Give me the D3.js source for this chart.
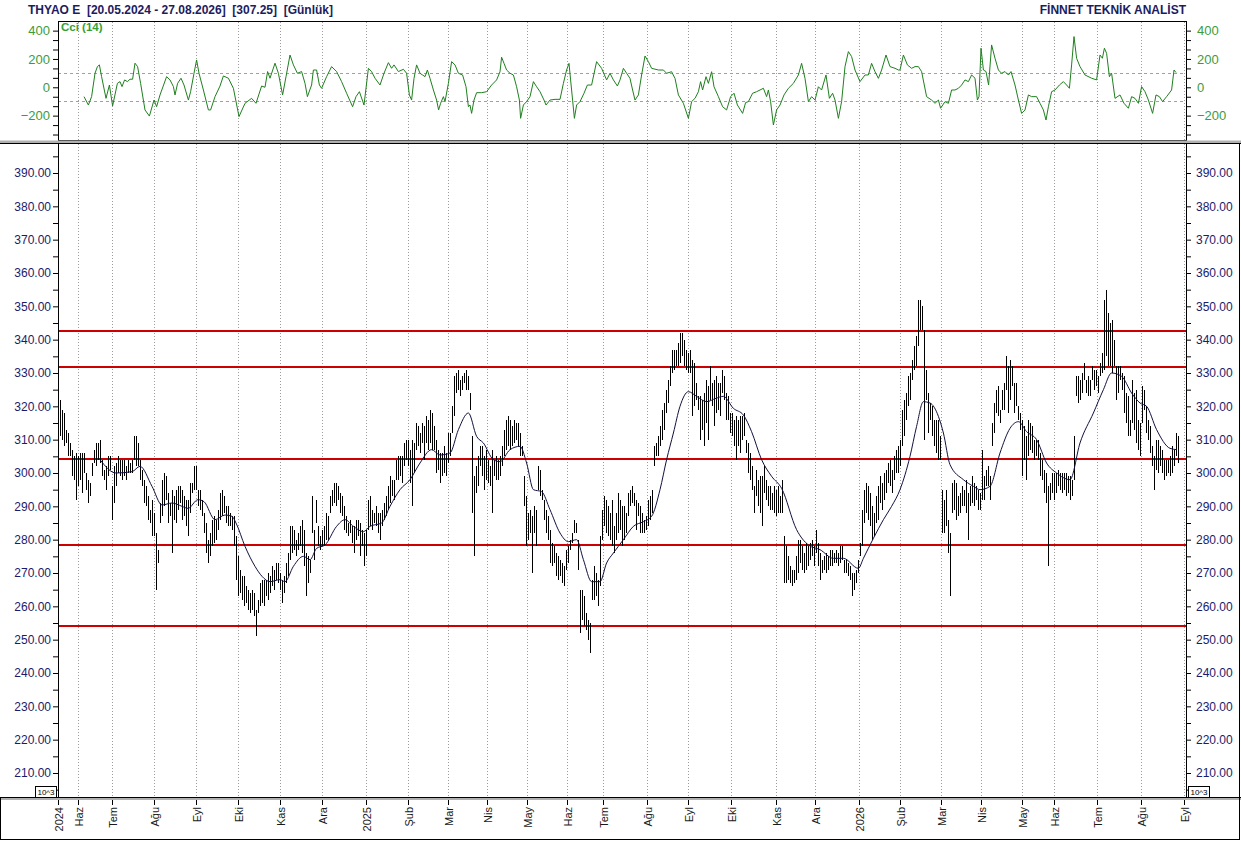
<!DOCTYPE html>
<html>
<head>
<meta charset="utf-8">
<script src="https://cdn.jsdelivr.net/npm/d3@7"></script>
<style>
  body { margin: 0; background: #fff; }
  svg { display: block; }
  text { font-family: Arial, "Liberation Sans", sans-serif; }
</style>
</head>
<body>
<div id="chart"></div>
<script>
// daily high / low, bar 0 = 20.05.2024, last bar = 27.08.2026
var highs = [
  322,319,318,313,312,309,307,305,306,305,306,306,306,300,298,297,303,307,309,309,
  310,304,301,302,305,305,296,302,303,305,304,304,304,302,304,303,304,311,311,309,
  304,301,298,296,293,289,292,288,282,277,291,298,300,299,294,291,295,293,295,296,
  296,295,293,292,292,297,297,302,302,295,295,292,288,285,280,282,286,287,286,289,
  294,295,293,290,290,288,287,287,281,275,271,269,269,266,265,264,265,264,259,262,
  267,268,268,268,270,269,272,271,273,273,270,268,269,273,276,284,284,283,280,282,
  284,286,283,276,275,274,293,283,292,284,281,283,284,288,287,293,295,297,297,296,
  294,293,290,287,285,286,284,284,286,286,285,283,282,283,292,293,289,288,290,288,
  288,289,291,293,296,299,298,298,304,305,305,305,309,310,310,307,310,309,315,314,
  312,315,314,317,316,319,318,314,310,307,306,306,308,306,312,312,320,329,330,331,
  328,329,330,331,329,324,311,299,302,305,308,308,305,307,304,302,307,304,305,304,
  305,308,313,316,317,316,314,316,315,315,312,308,299,293,288,289,287,290,289,302,
  301,295,292,289,287,283,279,278,276,275,274,273,272,277,278,280,282,286,285,280,
  265,265,263,258,256,255,268,272,270,268,281,289,293,292,290,288,292,284,288,294,
  292,290,290,288,294,295,296,294,292,291,290,288,286,287,292,293,295,308,309,311,
  314,319,321,325,328,332,337,337,337,339,342,342,340,337,336,337,334,333,327,323,
  323,322,324,328,326,332,327,328,329,327,327,331,329,324,323,318,318,316,317,316,
  317,317,318,310,309,306,302,296,301,298,299,299,302,298,296,296,294,296,295,296,
  293,298,281,278,275,272,271,271,275,280,280,278,276,279,278,279,280,278,283,279,
  276,274,275,276,275,277,277,276,277,276,278,278,274,274,273,272,270,270,271,274,
  279,289,295,297,296,294,290,288,293,296,299,297,300,301,303,304,301,305,307,308,
  310,319,322,324,329,330,334,338,341,352,352,350,343,331,324,321,320,316,316,316,
  311,295,292,295,286,282,297,298,297,293,294,296,295,298,294,296,299,297,296,295,
  294,307,299,301,302,299,315,321,325,326,319,325,327,335,332,334,332,327,327,320,
  318,316,314,311,316,315,314,310,310,310,306,304,301,300,296,297,300,300,300,301,
  300,300,300,300,299,299,298,311,329,329,328,330,333,328,329,328,332,331,331,329,
  333,336,352,355,348,345,346,340,332,332,332,330,329,324,323,316,328,324,325,316,
  315,326,325,320,316,314,308,305,310,310,308,307,304,304,304,305,308,307,312,311
];
var lows = [
  311,310,308,309,305,305,299,298,292,296,298,294,300,295,291,293,299,303,302,304,
  303,299,298,295,299,301,286,291,296,300,299,298,299,298,300,300,300,304,302,302,
  298,296,291,290,286,285,281,281,265,273,285,287,290,292,285,287,276,286,285,289,
  291,286,287,284,281,288,294,295,295,290,289,287,282,276,273,275,278,279,280,283,
  286,287,288,285,284,284,283,278,268,263,264,262,260,261,259,258,259,257,251,258,
  260,261,260,263,262,264,266,265,268,267,265,261,264,267,269,274,276,277,275,277,
  278,276,272,263,267,270,282,274,285,278,277,278,278,280,280,288,290,291,290,292,
  288,287,283,282,281,282,279,276,280,281,275,278,272,275,283,284,283,285,284,282,
  280,284,286,287,289,291,293,292,298,298,299,297,302,304,302,297,290,300,307,308,
  306,309,304,309,307,309,307,307,300,301,297,299,300,299,303,305,312,317,324,325,
  323,325,327,325,325,319,288,275,294,296,302,299,295,298,297,296,288,299,298,298,
  299,302,305,307,308,307,308,309,310,308,305,305,290,278,280,282,270,282,278,295,
  293,292,286,282,280,273,272,273,269,268,269,267,266,271,273,277,279,282,282,271,
  252,256,254,253,250,246,262,262,263,260,266,280,284,282,281,280,278,276,280,282,
  283,278,280,282,287,290,291,290,283,287,282,282,282,283,284,286,288,302,305,305,
  308,310,313,318,321,326,330,331,332,332,333,335,332,331,330,330,317,320,322,319,
  310,313,308,315,310,322,320,314,318,319,317,324,322,316,316,312,311,308,304,308,
  306,310,311,306,300,298,295,288,293,290,288,284,294,292,290,289,289,288,287,288,
  288,288,267,267,268,267,266,267,268,270,273,271,270,271,272,274,275,272,276,272,
  268,270,271,270,271,272,272,273,273,272,273,274,270,270,269,268,263,265,267,270,
  275,278,285,288,286,284,280,281,285,286,291,289,292,294,297,296,294,298,300,300,
  302,308,311,316,320,322,328,331,332,338,343,343,310,322,312,316,311,308,306,304,
  304,282,282,284,276,263,288,289,286,287,288,290,290,288,280,290,291,290,292,289,
  289,292,292,296,296,292,308,312,318,317,315,319,319,325,318,322,326,318,320,316,
  313,299,304,298,305,307,306,304,305,304,299,298,294,291,272,292,294,292,294,296,
  295,294,295,293,294,292,293,298,323,321,322,324,328,324,323,323,328,325,326,324,
  329,330,331,335,332,332,330,332,322,324,328,325,318,315,311,311,315,313,309,307,
  305,315,319,312,310,306,302,295,301,300,302,300,298,299,300,299,300,302,305,303
];

// moving average: [bar, value]
var maPoints = [
  [20,304],[28,300],[36,300.4],[40,302],[46,296],[51,290.4],[56,291],[61,290],[64,289.4],[69,292],
  [72,291.4],[77.5,286],[82.5,287.4],[86,287],[88,285],[92.5,278],[97.5,272],[101,269],[105,267.4],[110,268],
  [112.5,267.4],[116.7,272],[121.7,275],[125,274],[128.3,277.4],[132.5,278.4],[138.3,284],[142.5,286],[146.7,284],[151.7,282.4],
  [155,284],[160.8,285],[165,290],[170,295],[175,298],[180,303],[185.8,307],[190,305.4],[195,306],[199.2,313],
  [204.2,318],[208.3,311],[211.7,309],[216.7,304],[220,303.4],[225,307],[230,308],[233.3,303],[236.7,295],[240.8,294.4],
  [245,289],[250,282],[254.2,279.4],[258.3,280],[261.7,274],[265.8,267.4],[270,267.4],[273.3,273],[276.7,276],[281.7,280],
  [286.7,284],[291.7,285.4],[295.8,287],[300,295],[303.3,304],[306.7,312],[310,320],[314.2,324.4],[318.3,323],[323.3,321.4],
  [328,322.4],[331.7,323],[336.7,319.4],[341.7,317.4],[345.8,312.4],[350.8,304],[355.8,299],[360.8,295.4],[368.3,283],[374.2,278.4],
  [380,277],[386.7,274.4],[391.7,274.4],[399.2,271.4],[401.7,274.4],[406.7,280.4],[411.7,286],[415.8,290],[420,295],[425,305],
  [428.3,314],[431.7,321.4],[435,321],[439.2,317],[441.7,312],[445,302.5],[451.7,298],[456.7,296],[460,295],[465,296],
  [470,306],[475,313.4],[479.2,315.4],[483.3,312.4],[488.3,310],[493.3,303],[498.3,300],[505,298],[510,309],[516.7,318],
  [521.7,325],[525.8,330],[530.8,329],[535.8,324],[540,321],[543.3,320],[548.3,313],[555,307.4],[558.3,307]
];

// Cci (14): [bar, value]
var cciPoints = [
  [12,-66],[14.2,-125],[15.8,-66],[17.5,99],[18.7,146],[19.7,158],[20.8,75],[23,-78],[24.7,16],[26.3,-132],
  [28.7,28],[30,40],[31,5],[32.3,52],[33.7,40],[35,57],[36.3,57],[37.5,170],[38.8,146],[40.3,28],
  [42.5,-160],[44.7,-203],[47,-90],[48.3,-137],[50,-54],[53.3,75],[55,52],[56.7,5],[57.5,-54],[58.8,28],
  [60.5,64],[62,16],[64.2,-90],[65.3,-31],[67,99],[68.3,193],[69.5,99],[71.7,-19],[74.2,-160],[75.3,-160],
  [77.5,-66],[80,9],[81.7,80],[84.2,64],[86.7,-7],[89.5,-207],[92.5,-113],[95.8,-78],[98,-113],[100.8,9],
  [102.5,0],[103.8,111],[105,64],[107.5,170],[109.2,99],[111.3,-54],[113,75],[115,228],[116.7,158],[118.7,99],
  [120.8,111],[122.5,28],[123.7,-66],[125.8,16],[126.7,122],[128.3,122],[129.7,16],[130.8,-7],[133.3,75],[135.8,146],
  [138.3,111],[140.8,40],[143.3,-42],[146.3,-137],[148,-66],[149.7,-31],[152,-125],[154.2,134],[155.8,111],[157.5,64],
  [160,16],[162,99],[164.2,174],[165.8,134],[167,158],[169.2,111],[171.7,127],[173.3,99],[174.7,-54],[175.8,-90],
  [177,63],[178.3,158],[180,99],[181.3,87],[182.5,75],[183.7,122],[185,63],[186.7,-19],[188.3,-90],[189.3,-160],
  [190.3,-113],[191.7,-66],[192.5,-101],[194.2,28],[195.8,181],[197.5,158],[199.2,99],[201.3,87],[203,4],[204.2,-137],
  [205,-125],[205.8,-184],[207,-90],[208.3,-38],[210.8,-38],[213.3,-31],[215.8,16],[218.3,52],[220,110],[220.8,212],
  [222,169],[223.3,122],[225,99],[226.7,87],[228.3,4],[229.7,-90],[230.3,-219],[231.7,-125],[233.3,-101],[235,-66],
  [236.7,40],[238.3,4],[240,-31],[242,-90],[243,-125],[245,-90],[247.5,-85],[250,-85],[251.7,28],[253.3,122],
  [254.5,169],[255.3,52],[256.3,-90],[257.2,-219],[258.3,-125],[260,-101],[262,-42],[263.7,16],[265.8,16],[268.3,181],
  [270.8,134],[273.3,52],[275,99],[276.7,52],[278.7,9],[280,52],[281.7,134],[283.3,99],[285,63],[286.3,-19],
  [287.5,-90],[289.2,-54],[290.8,87],[292.5,221],[294.2,181],[295.8,134],[299.2,122],[301.7,122],[303.3,99],[305.8,110],
  [307.5,63],[309.2,-54],[311.7,-113],[314.2,-219],[315.8,-101],[317.5,-78],[319.2,-31],[320.3,40],[321.3,-19],[323,75],
  [324.2,28],[325.8,110],[327,4],[329.2,-66],[331.3,-137],[333.3,-160],[335.3,-66],[337,-42],[338.7,-125],[341.3,-184],
  [342.8,-108],[344.2,-101],[346.3,-42],[348.3,-31],[350,-19],[351.7,-7],[353.3,-66],[354.2,-19],[355.3,-101],[356.7,-266],
  [358.3,-160],[360,-125],[362,-54],[364.2,-7],[366.7,28],[369.2,87],[370.8,169],[372.5,63],[374.2,-101],[375.8,-66],
  [377.5,-90],[379.2,4],[380.8,-19],[383,87],[384.7,-78],[386.3,-42],[387.5,-90],[389.2,-219],[390.8,-101],[392.5,146],
  [394.2,252],[395.8,217],[397.5,122],[400,40],[402.5,87],[404.2,87],[405.8,169],[407.5,110],[409.2,63],[410.8,122],
  [413,228],[415,146],[417.5,134],[419.2,122],[420,122],[421.7,228],[423.7,158],[425.8,134],[427.5,146],[429.2,146],
  [430.8,111],[433.3,-66],[435.8,-90],[437.5,-113],[439.2,-90],[440.3,-148],[442.5,-101],[444.2,-113],[445.8,-19],[447.5,-19],
  [449.2,-7],[450.8,16],[452.5,52],[454.2,40],[455.8,87],[457.5,64],[458.7,-90],[459.5,-66],[460.5,276],[461.7,122],
  [463,111],[464.3,16],[465.8,299],[467.5,205],[469.2,122],[470.8,99],[472.5,111],[474.2,87],[475.5,111],[477.5,16],
  [479.2,-90],[480.8,-184],[482.5,-160],[484.2,-54],[485.8,-66],[488.3,-66],[490,-113],[491.7,-160],[493,-231],[494.2,-137],
  [495.8,-31],[497.5,-19],[499.7,16],[501.7,40],[503.3,16],[504.7,-7],[505.8,158],[507,358],[508.3,205],[510,146],
  [512.5,87],[515.8,64],[518.3,52],[520,228],[521.2,205],[522.2,276],[523.3,240],[524.7,75],[525.8,99],[527.5,-78],
  [530,-54],[532,-113],[534.2,-148],[535.8,-66],[537.5,-78],[539.2,-113],[540.8,5],[542.5,-31],[544.2,-90],[546.3,-184],
  [548,-54],[549.7,-66],[551.3,-101],[553.3,-66],[555.8,-19],[557,122],[558,104]
];

// horizontal support / resistance levels (red)
var levels = [342.6, 331.8, 304.2, 278.4, 254.1];

// month ticks (bar position) and labels
var monthIdx = [-1,9,26,47,68,89,110,131,153,174,194,213.5,233.5,253.5,271.5,293.5,314,335.5,358,377.5,399.5,420,440.5,460.5,481,497,518.5,540.5,562];
var monthLabels = ["2024","Haz","Tem","Ağu","Eyl","Eki","Kas","Ara","2025","Şub","Mar","Nis","May","Haz","Tem","Ağu","Eyl","Eki","Kas","Ara","2026","Şub","Mar","Nis","May","Haz","Tem","Ağu","Eyl"];

var priceTicks = [210,220,230,240,250,260,270,280,290,300,310,320,330,340,350,360,370,380,390];
var priceMinor = [205,215,225,235,245,255,265,275,285,295,305,315,325,335,345,355,365,375,385,395];
var cciTicks = [-200,0,200,400];
var cciMinor = [-333.3,-266.7,-133.3,-66.7,66.7,133.3,266.7,333.3];

var W = 1241, H = 841;
var left = 58, right = 1186;

var svg = d3.select("#chart").append("svg")
    .attr("width", W)
    .attr("height", H);

var x = d3.scaleLinear().domain([-1, 563]).range([left, right]);
var yP = d3.scaleLinear().domain([202.8, 399]).range([797, 143]);
var yC = d3.scaleLinear().domain([-372, 463]).range([140, 21.7]);

function px(v) { return Math.round(v) + 0.5; }

// header
svg.append("text")
   .attr("x", 28).attr("y", 14)
   .style("white-space", "pre")
   .style("font-size", "12px").style("font-weight", "bold")
   .attr("fill", "#1c1c5e")
   .text("THYAO E  [20.05.2024 - 27.08.2026]  [307.25]  [Günlük]");

svg.append("text")
   .attr("x", right).attr("y", 14)
   .attr("text-anchor", "end")
   .style("font-size", "12px").style("font-weight", "bold")
   .attr("fill", "#1c1c5e")
   .text("FİNNET TEKNİK ANALİST");

// vertical dotted month grid, both panels
var grid = svg.append("g").attr("stroke", "#9c9c9c").attr("stroke-dasharray", "1,2");
monthIdx.forEach(function(m) {
    if (m < 0 || x(m) >= right) return;
    grid.append("line").attr("x1", px(x(m))).attr("x2", px(x(m))).attr("y1", 22).attr("y2", 140);
    grid.append("line").attr("x1", px(x(m))).attr("x2", px(x(m))).attr("y1", 144).attr("y2", 797);
});

// cci +-100 dashed
svg.selectAll("line.cciref")
   .data([100, -100])
   .enter().append("line")
   .attr("x1", left).attr("x2", right)
   .attr("y1", function(d) { return px(yC(d)); })
   .attr("y2", function(d) { return px(yC(d)); })
   .attr("stroke", "#a0a0a0")
   .attr("stroke-dasharray", "3,3");

// cci line
var cciLine = d3.line()
    .x(function(d) { return x(d[0]); })
    .y(function(d) { return yC(d[1]); });

svg.append("path")
   .datum(cciPoints)
   .attr("d", cciLine)
   .attr("fill", "none")
   .attr("stroke", "#1f7f1f")
   .attr("stroke-width", 1);

svg.append("text")
   .attr("x", 61).attr("y", 31)
   .style("font-size", "11.5px").style("font-weight", "bold")
   .attr("fill", "#35a035")
   .text("Cci (14)");

// red levels
svg.selectAll("line.level")
   .data(levels)
   .enter().append("line")
   .attr("x1", left).attr("x2", right)
   .attr("y1", function(d) { return yP(d); })
   .attr("y2", function(d) { return yP(d); })
   .attr("stroke", "#cc0000")
   .attr("stroke-width", 2);

// high-low bars
svg.append("g")
   .selectAll("line")
   .data(d3.range(Math.min(highs.length, lows.length)))
   .enter().append("line")
   .attr("x1", function(i) { return px(x(i)); })
   .attr("x2", function(i) { return px(x(i)); })
   .attr("y1", function(i) { return Math.round(yP(highs[i])); })
   .attr("y2", function(i) { return Math.round(yP(lows[i])); })
   .attr("stroke", "#000")
   .attr("stroke-width", 1)
   .attr("shape-rendering", "crispEdges");

// moving average
var maLine = d3.line()
    .x(function(d) { return x(d[0]); })
    .y(function(d) { return yP(d[1]); })
    .curve(d3.curveMonotoneX);

svg.append("path")
   .datum(maPoints)
   .attr("d", maLine)
   .attr("fill", "none")
   .attr("stroke", "#111140")
   .attr("stroke-width", 1);

// axes
function styleAxis(g, color, size) {
    g.select(".domain").remove();
    g.selectAll("line").attr("stroke", "#000");
    g.selectAll("text").attr("fill", color).style("font-size", size)
     .style("font-family", "Arial, 'Liberation Sans', sans-serif");
}

var fmt = d3.format(".2f");
svg.append("g").attr("transform", "translate(" + left + ",0)")
   .call(d3.axisLeft(yP).tickValues(priceTicks).tickFormat(fmt).tickSize(5).tickPadding(2))
   .call(styleAxis, "#1b1b6b", "12px");
svg.append("g").attr("transform", "translate(" + left + ",0)")
   .call(d3.axisLeft(yP).tickValues(priceMinor).tickFormat("").tickSize(5))
   .call(styleAxis, "#000", "1px");
svg.append("g").attr("transform", "translate(" + right + ",0)")
   .call(d3.axisRight(yP).tickValues(priceTicks).tickFormat(fmt).tickSize(5).tickPadding(5))
   .call(styleAxis, "#1b1b6b", "12px");
svg.append("g").attr("transform", "translate(" + right + ",0)")
   .call(d3.axisRight(yP).tickValues(priceMinor).tickFormat("").tickSize(5))
   .call(styleAxis, "#000", "1px");

svg.append("g").attr("transform", "translate(" + left + ",0)")
   .call(d3.axisLeft(yC).tickValues(cciTicks).tickSize(5).tickPadding(3))
   .call(styleAxis, "#3c9c3c", "13px");
svg.append("g").attr("transform", "translate(" + left + ",0)")
   .call(d3.axisLeft(yC).tickValues(cciMinor).tickFormat("").tickSize(5))
   .call(styleAxis, "#000", "1px");
svg.append("g").attr("transform", "translate(" + right + ",0)")
   .call(d3.axisRight(yC).tickValues(cciTicks).tickSize(5).tickPadding(6))
   .call(styleAxis, "#3c9c3c", "13px");
svg.append("g").attr("transform", "translate(" + right + ",0)")
   .call(d3.axisRight(yC).tickValues(cciMinor).tickFormat("").tickSize(5))
   .call(styleAxis, "#000", "1px");

// frames and separators
svg.append("rect").attr("x", left + 0.5).attr("y", 21.5)
   .attr("width", right - left).attr("height", 119)
   .attr("fill", "none").attr("stroke", "#000");
svg.append("rect").attr("x", 0).attr("y", 140.5).attr("width", W).attr("height", 2.5).attr("fill", "#b0b0b0");
svg.append("line").attr("x1", 0).attr("x2", W).attr("y1", 143.5).attr("y2", 143.5).attr("stroke", "#000");
svg.append("line").attr("x1", left + 0.5).attr("x2", left + 0.5).attr("y1", 143).attr("y2", 798).attr("stroke", "#000");
svg.append("line").attr("x1", right + 0.5).attr("x2", right + 0.5).attr("y1", 143).attr("y2", 798).attr("stroke", "#000");
svg.append("line").attr("x1", 0).attr("x2", W).attr("y1", 797.5).attr("y2", 797.5).attr("stroke", "#000");
svg.append("rect").attr("x", 0).attr("y", 798).attr("width", W).attr("height", 2).attr("fill", "#b0b0b0");
svg.append("line").attr("x1", 0.5).attr("x2", 0.5).attr("y1", 798).attr("y2", 840).attr("stroke", "#000");
svg.append("line").attr("x1", 1239.5).attr("x2", 1239.5).attr("y1", 143).attr("y2", 840).attr("stroke", "#000");
svg.append("line").attr("x1", 0).attr("x2", 1240).attr("y1", 839.5).attr("y2", 839.5).attr("stroke", "#000");

// 10^3 boxes
[[35, 786], [1188, 786]].forEach(function(p) {
    svg.append("rect").attr("x", p[0] + 0.5).attr("y", p[1] + 0.5).attr("width", 21).attr("height", 11)
       .attr("fill", "#fff").attr("stroke", "#000");
    svg.append("text").attr("x", p[0] + 11).attr("y", p[1] + 9)
       .attr("text-anchor", "middle").style("font-size", "8px").attr("fill", "#000")
       .text("10^3");
});

// month axis, rotated labels
var xa = svg.append("g");
monthIdx.forEach(function(m, k) {
    var xx = px(x(m));
    xa.append("line").attr("x1", xx).attr("x2", xx).attr("y1", 800).attr("y2", 805).attr("stroke", "#000");
    xa.append("text")
      .attr("transform", "translate(" + (xx + 4) + ",807) rotate(-90)")
      .attr("text-anchor", "end")
      .style("font-size", "11px")
      .attr("fill", "#1a1a1a")
      .text(monthLabels[k]);
});
</script>
</body>
</html>
